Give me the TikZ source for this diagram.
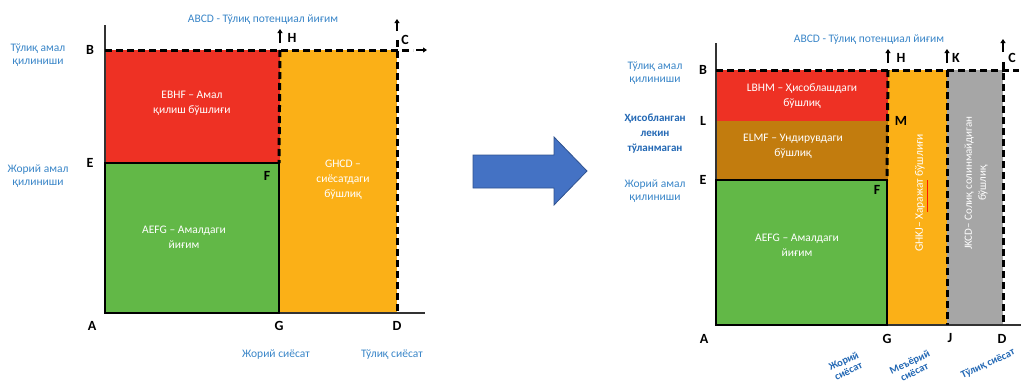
\documentclass[tikz,border=0pt]{standalone}
\usepackage{fontspec}
\setmainfont{Carlito}
\usetikzlibrary{arrows.meta}
\definecolor{gapred}{HTML}{EE3124}
\definecolor{gapgreen}{HTML}{62B847}
\definecolor{gaporange}{HTML}{FBB017}
\definecolor{gapbrown}{HTML}{C27C0E}
\definecolor{gapgray}{HTML}{A6A6A6}
\definecolor{txtblue}{HTML}{3A86C8}
\definecolor{darkblue}{HTML}{2368B4}
\definecolor{arrblue}{HTML}{4472C4}
\definecolor{arredge}{HTML}{2F528F}
\tikzset{pt/.style={font=\fontsize{14}{14}\selectfont\bfseries,inner sep=1pt},
blu/.style={text=txtblue,font=\fontsize{11.5}{13}\selectfont,align=center,inner sep=1pt},
bblu/.style={text=darkblue,font=\fontsize{11}{15}\selectfont\bfseries,align=center,inner sep=1pt},
wht/.style={text=white,font=\fontsize{11.5}{15}\selectfont,align=center,inner sep=1pt}}
\tikzset{axe/.style={line width=1.4pt,draw=black!80},brd/.style={line width=2.4pt},
dsh/.style={line width=3pt,dash pattern=on 7pt off 4pt},arr/.style={line width=1.2pt,-{Triangle[length=4pt,width=5pt]}}}

\begin{document}
\begin{tikzpicture}[x=1pt,y=-1pt]
\useasboundingbox (0,0) rectangle (1021,383);
% left picture
\coordinate (lA) at (105,313);
\coordinate (lB) at (105,50);
\coordinate (lE) at (105,163);
\coordinate (lF) at (279,163);
\coordinate (lG) at (279,313);
\coordinate (lH) at (280,50);
\coordinate (lC) at (397,50);
\coordinate (lD) at (397,313);
\coordinate (lTop) at (105,25);
\coordinate (lEnd) at (425,313);
\fill[gapred] (lE) rectangle (lH);
\fill[gaporange] (lH) rectangle (lD);
\fill[gapgreen] (lA) rectangle (lF);
\draw[axe] (lTop) -- (lA) -- (lEnd);
\draw[brd] (lA) rectangle (lF);
\coordinate (lBx) at (413,50);
\coordinate (lCt) at (397,40);
\draw[dsh] (lB) -- (lBx);
\draw[dsh] (lH) -- (lF);
\draw[dsh] (lCt) -- (lD);
\coordinate (lHa) at (280,43);
\coordinate (lHb) at (280,29);
\coordinate (lCa) at (397,31);
\coordinate (lCb) at (397,19);
\coordinate (lRa) at (416,50);
\coordinate (lRb) at (427,50);
\draw[arr] (lHa) -- (lHb);
\draw[arr] (lCa) -- (lCb);
\draw[arr] (lRa) -- (lRb);
\node[pt] (ltB) at (90,50) {B};
\node[pt] (ltE) at (90,163) {E};
\node[pt] (ltA) at (92,326) {A};
\node[pt] (ltG) at (279,326) {G};
\node[pt] (ltD) at (397,326) {D};
\node[pt] (ltF) at (267,176) {F};
\node[pt] (ltH) at (292,38) {H};
\node[pt] (ltC) at (405,40) {C};
\node[blu] (lfull) at (38,55) {Тўлиқ амал\\қилиниши};
\node[blu] (lcur) at (38,176) {Жорий амал\\қилиниши};
\node[blu] (ltitle) at (263,20) {ABCD - Тўлиқ потенциал йиғим};
\node[blu] (lpol) at (276,355) {Жорий сиёсат};
\node[blu] (lfpol) at (392,355) {Тўлиқ сиёсат};
\node[wht] (lred) at (192,103) {EBHF -- Амал\\қилиш бўшлиғи};
\node[wht] (lorg) at (343,180) {GHCD --\\сиёсатдаги\\бўшлиқ};
\node[wht] (lgrn) at (184,237) {AEFG -- Амалдаги\\йиғим};
% big arrow
\draw[fill=arrblue,draw=arredge,line width=0.8pt] (473,155) -- (554,155) -- (554,137) -- (587,171) -- (554,205) -- (554,188) -- (473,188) -- cycle;
% right picture
\coordinate (rA) at (716,325);
\coordinate (rB) at (716,70);
\coordinate (rL) at (716,121);
\coordinate (rE) at (716,180);
\coordinate (rF) at (887,180);
\coordinate (rG) at (887,325);
\coordinate (rH) at (888,70);
\coordinate (rM) at (888,121);
\coordinate (rK) at (947,70);
\coordinate (rJ) at (947,325);
\coordinate (rC) at (1003,70);
\coordinate (rD) at (1003,325);
\coordinate (rTop) at (716,43);
\coordinate (rEnd) at (1021,325);
\fill[gapred] (rL) rectangle (rH);
\fill[gapbrown] (rE) rectangle (rM);
\fill[gaporange] (rH) rectangle (rJ);
\fill[gapgray] (rK) rectangle (rD);
\fill[gapgreen] (rA) rectangle (rF);
\draw[axe] (rTop) -- (rA) -- (rEnd);
\draw[brd] (rA) rectangle (rF);
\coordinate (rBx) at (1019,70);
\coordinate (rCt) at (1003,62);
\draw[dsh] (rB) -- (rBx);
\draw[dsh] (rH) -- (rF);
\draw[dsh] (rK) -- (rJ);
\draw[dsh] (rCt) -- (rD);
\coordinate (rHa) at (888,63);
\coordinate (rHb) at (888,49);
\coordinate (rKa) at (947,63);
\coordinate (rKb) at (947,49);
\coordinate (rCa) at (1003,52);
\coordinate (rCb) at (1003,39);
\draw[arr] (rHa) -- (rHb);
\draw[arr] (rKa) -- (rKb);
\draw[arr] (rCa) -- (rCb);
\node[pt] (rtB) at (703,70) {B};
\node[pt] (rtL) at (703,121) {L};
\node[pt] (rtE) at (703,180) {E};
\node[pt] (rtA) at (704,339) {A};
\node[pt] (rtG) at (887,339) {G};
\node[pt] (rtJ) at (950,338) {J};
\node[pt] (rtD) at (1002,339) {D};
\node[pt] (rtF) at (877,190) {F};
\node[pt] (rtM) at (901,121) {M};
\node[pt] (rtH) at (901,58) {H};
\node[pt] (rtK) at (956,58) {K};
\node[pt] (rtC) at (1012,58) {C};
\node[blu] (rfull) at (655,73) {Тўлиқ амал\\қилиниши};
\node[bblu] (rcalc) at (655,134) {Ҳисобланган\\лекин\\тўланмаган};
\node[blu] (rcur) at (655,191) {Жорий амал\\қилиниши};
\node[blu] (rtitle) at (869,40) {ABCD - Тўлиқ потенциал йиғим};
\node[bblu,rotate=25,font=\fontsize{10.5}{11}\selectfont\bfseries] (rpol) at (846,366) {Жорий\\сиёсат};
\node[bblu,rotate=25,font=\fontsize{10.5}{11}\selectfont\bfseries] (rnpol) at (912,367) {Меъёрий\\сиёсат};
\node[bblu,rotate=25,font=\fontsize{10.5}{11}\selectfont\bfseries] (rfpol) at (988,364) {Тўлиқ сиёсат};
\node[wht] (rred) at (802,96) {LBHM -- Ҳисоблашдаги\\бўшлиқ};
\node[wht] (rbrn) at (793,146) {ELMF -- Ундирувдаги\\бўшлиқ};
\node[wht] (rgrn) at (797,245) {AEFG -- Амалдаги\\йиғим};
\node[wht,rotate=90] (rorg) at (920,193) {GHKJ-- Харажат бўшлиғи};
\node[wht,rotate=90,font=\fontsize{11}{14}\selectfont] (rgry) at (976,183) {JKCD-- Солиқ солинмайдиган\\бўшлиқ};
\coordinate (uA) at (927,180);
\coordinate (uB) at (927,212);
\draw[red!80!orange,line width=1pt] (uA) -- (uB);
\end{tikzpicture}
\end{document}
